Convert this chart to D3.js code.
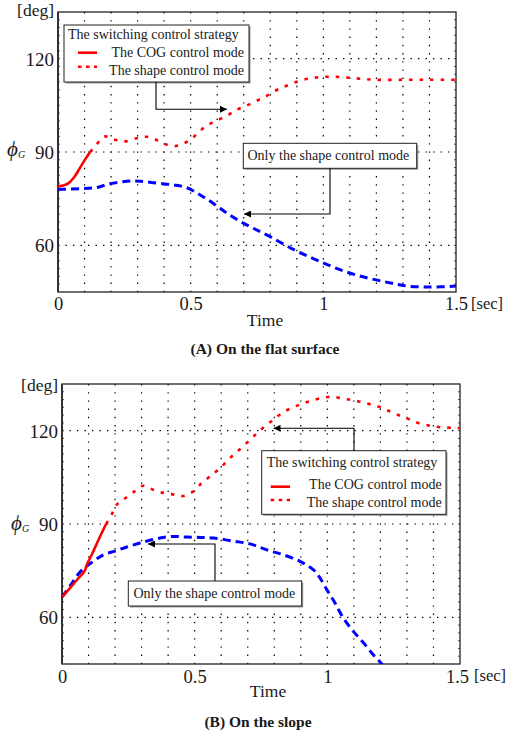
<!DOCTYPE html>
<html><head><meta charset="utf-8">
<script src="https://cdn.jsdelivr.net/npm/d3@7"></script>
<style>
body{margin:0;background:#fff;}
svg text{font-family:"Liberation Serif","Times New Roman",serif;fill:#1a1a1a;}
</style></head>
<body>
<svg id="chart" width="511" height="734"></svg>
<script>
// ---------- data (time [sec], angle [deg]) ----------
const xTicks = [0, 0.5, 1, 1.5];
const xTickLabels = ["0", "0.5", "1", "1.5"];
const yTicks = [60, 90, 120];
const yTickLabels = ["60", "90", "120"];

// (A) flat surface
const flatCOG = [[0,79],[0.02,79.2],[0.04,80],[0.06,81.8],[0.08,84.5],[0.1,87.3],[0.121,90]];
const flatShapeSwitch = [[0.121,90],[0.146,92.5],[0.175,95],[0.209,94.1],[0.249,93.4],[0.297,94.4],[0.335,94.9],
  [0.373,93.8],[0.411,92.3],[0.448,92],[0.492,93.6],[0.524,95.8],[0.555,98.2],[0.593,99.9],[0.637,101.7],
  [0.675,103.6],[0.713,105],[0.757,106.8],[0.788,108.1],[0.826,110],[0.864,111.4],[0.908,112.8],[0.946,113.6],
  [0.99,114.1],[1.034,114.2],[1.078,114.0],[1.119,113.7],[1.162,113.4],[1.204,113.2],[1.3,113.2],[1.4,113.2],[1.5,113.2]];
const flatShapeOnly = [[0,78],[0.083,78.2],[0.146,78.6],[0.196,79.8],[0.26,80.6],[0.31,80.6],[0.373,80],[0.436,79.4],
  [0.486,78.5],[0.536,76.2],[0.587,73.4],[0.637,70.3],[0.688,67.6],[0.738,65.4],[0.801,62.7],[0.889,58.6],
  [0.977,55.2],[1.065,52.1],[1.153,49.8],[1.242,48.1],[1.317,46.9],[1.405,46.6],[1.5,46.9]];

// (B) slope
const slopeCOG = [[0,66.5],[0.03,69.4],[0.06,72.4],[0.085,74.9],[0.095,77.2],[0.112,80.1],[0.137,84.8],[0.166,90]];
const slopeShapeSwitch = [[0.166,90],[0.187,93],[0.206,96.2],[0.237,98.2],[0.269,100.2],[0.306,102.3],[0.344,101],
  [0.382,100],[0.42,99.5],[0.457,99],[0.495,100.5],[0.527,103.2],[0.558,105.3],[0.596,108],[0.633,111.2],
  [0.665,113.6],[0.709,117.1],[0.746,120.1],[0.784,122.7],[0.815,124.8],[0.853,126.8],[0.897,128.4],[0.935,129.5],
  [0.979,130.5],[1.017,130.9],[1.06,130.3],[1.098,129.8],[1.142,128.9],[1.186,127.9],[1.224,126.6],[1.262,125.2],
  [1.305,123.8],[1.343,122.5],[1.387,121.6],[1.425,121.1],[1.475,120.9],[1.5,120.8]];
const slopeShapeOnly = [[0,66.5],[0.03,70],[0.068,74.6],[0.118,78],[0.156,80.1],[0.2,81.3],[0.244,82.6],[0.294,83.9],
  [0.319,84.5],[0.369,85.5],[0.42,86],[0.47,85.8],[0.52,85.7],[0.57,85.5],[0.646,84.5],[0.709,83.6],[0.772,81.7],
  [0.834,80.1],[0.897,78],[0.947,75.3],[0.972,72.7],[0.998,68.9],[1.029,64.6],[1.06,59.8],[1.098,55.5],
  [1.136,51.8],[1.173,48],[1.205,45],[1.23,42]];

const legendTitle = "The switching control strategy";
const legendItems = ["The COG control mode", "The shape control mode"];
const onlyLabel = "Only the shape control mode";

// ---------- drawing ----------
const svg = d3.select("#chart");
const defs = svg.append("defs");
defs.append("marker").attr("id","ah").attr("viewBox","0 0 10 10").attr("refX",10).attr("refY",5)
  .attr("markerWidth",9).attr("markerHeight",7).attr("markerUnits","userSpaceOnUse").attr("orient","auto")
  .append("path").attr("d","M0,0L10,5L0,10Z").attr("fill","#000");

const panels = [
  {l:58, r:456, t:12, b:292, id:"a",
   cog:flatCOG, sw:flatShapeSwitch, only:flatShapeOnly,
   caption:"(A) On the flat surface", captionY:354, captionX:265, timeX:265, timeY:326, tickY:310, secY:309, secX:471,
   degY:16, phiY:156,
   legend:{x:64, y:25, w:185, h:57, titleX:68, titleY:39, itemR:244, itemY:[57,74.5], sx:[78,97], sy:[52.7,66.7]},
   legendArrow:[[156,82],[156,109.3],[227,109.3]],
   only_box:{x:243.3, y:143.3, w:173.4, h:25, tx:247.5, ty:160},
   onlyArrow:[[330,168.3],[330,214],[244,214]]},
  {l:62, r:460, t:384, b:664, id:"b",
   cog:slopeCOG, sw:slopeShapeSwitch, only:slopeShapeOnly,
   caption:"(B) On the slope", captionY:727, captionX:258, timeX:268, timeY:697, tickY:683, secY:681, secX:474,
   degY:391, phiY:530,
   legend:{x:261.7, y:450.7, w:184.3, h:63.6, titleX:266.7, titleY:467.3, itemR:441.7, itemY:[489.3,506.5], sx:[270.7,290], sy:[486.7,500]},
   legendArrow:[[354,450.7],[354,428.3],[273.5,428.3]],
   only_box:{x:128.3, y:581, w:173.4, h:25, tx:133.5, ty:597.5},
   onlyArrow:[[215,581],[215,544],[148,544]]}
];

const line = d3.line().curve(d3.curveCatmullRom.alpha(0.5));

panels.forEach(p => {
  const x = d3.scaleLinear().domain([0,1.5]).range([p.l,p.r]);
  const y = d3.scaleLinear().domain([45,135]).range([p.b,p.t]);
  line.x(d=>x(d[0])).y(d=>y(d[1]));
  const g = svg.append("g");

  defs.append("clipPath").attr("id","clip"+p.id).append("rect")
    .attr("x",p.l).attr("y",p.t).attr("width",p.r-p.l).attr("height",p.b-p.t);

  // grid
  const vg = d3.range(1,15).map(i=>i/10);
  g.append("g").selectAll("line").data(vg).join("line")
    .attr("x1",d=>x(d)).attr("x2",d=>x(d)).attr("y1",p.t).attr("y2",p.b)
    .attr("stroke","#000").attr("stroke-width",1.2).attr("stroke-dasharray","1.4,6.8");
  g.append("g").selectAll("line").data(yTicks).join("line")
    .attr("x1",p.l).attr("x2",p.r).attr("y1",d=>y(d)).attr("y2",d=>y(d))
    .attr("stroke","#000").attr("stroke-width",1.2).attr("stroke-dasharray","1.4,6.1");

  // minor ticks on left/right axis
  const minor = d3.range(47.5,135,2.5);
  g.append("g").selectAll("line").data(minor).join("line")
    .attr("x1",p.l).attr("x2",p.l+2).attr("y1",d=>y(d)).attr("y2",d=>y(d))
    .attr("stroke","#555").attr("stroke-width",1);
  g.append("g").selectAll("line").data(minor).join("line")
    .attr("x1",p.r-2).attr("x2",p.r).attr("y1",d=>y(d)).attr("y2",d=>y(d))
    .attr("stroke","#555").attr("stroke-width",1);

  // axes via d3
  const xAxis = d3.axisBottom(x).tickValues(xTicks).tickFormat((d,i)=>xTickLabels[i]).tickSize(0).tickPadding(0);
  const xa = g.append("g").attr("transform",`translate(0,${p.b})`).call(xAxis);
  xa.select(".domain").remove();
  xa.selectAll("text").attr("dy",null).attr("y",p.tickY-p.b).attr("font-size",18.5)
    .attr("font-family","Liberation Serif, serif").attr("fill","#1a1a1a");
  if (p.id === "b") xa.selectAll("text").filter((d,i)=>i===3).attr("dx",-3);
  const yAxis = d3.axisLeft(y).tickValues(yTicks).tickFormat((d,i)=>yTickLabels[i]).tickSize(0).tickPadding(4);
  const ya = g.append("g").attr("transform",`translate(${p.l},0)`).call(yAxis);
  ya.select(".domain").remove();
  ya.selectAll("text").attr("dy","0.34em").attr("font-size",19)
    .attr("font-family","Liberation Serif, serif").attr("fill","#1a1a1a");

  // frame
  g.append("rect").attr("x",p.l).attr("y",p.t).attr("width",p.r-p.l).attr("height",p.b-p.t)
    .attr("fill","none").attr("stroke","#222").attr("stroke-width",1.3);
  g.append("line").attr("x1",p.l).attr("x2",p.l).attr("y1",p.t).attr("y2",p.b)
    .attr("stroke","#333").attr("stroke-width",2);

  // curves
  const cg = g.append("g").attr("clip-path",`url(#clip${p.id})`);
  cg.append("path").attr("d",line(p.only)).attr("fill","none").attr("stroke","#0000ff")
    .attr("stroke-width",3).attr("stroke-dasharray","8,5");
  cg.append("path").attr("d",line(p.sw)).attr("fill","none").attr("stroke","#ff0000")
    .attr("stroke-width",2.6).attr("stroke-dasharray","3.5,7");
  cg.append("path").attr("d",line(p.cog)).attr("fill","none").attr("stroke","#ff0000")
    .attr("stroke-width",2.6);

  // legend box
  const L = p.legend;
  g.append("rect").attr("x",L.x+1.5).attr("y",L.y+1.5).attr("width",L.w).attr("height",L.h).attr("fill","#999");
  g.append("rect").attr("x",L.x).attr("y",L.y).attr("width",L.w).attr("height",L.h)
    .attr("fill","#fff").attr("stroke","#222").attr("stroke-width",1);
  g.append("text").attr("x",L.titleX).attr("y",L.titleY).attr("font-size",14).text(legendTitle);
  legendItems.forEach((t,i)=>{
    g.append("text").attr("x",L.itemR).attr("y",L.itemY[i]).attr("font-size",14)
      .attr("text-anchor","end").text(t);
  });
  g.append("line").attr("x1",L.sx[0]).attr("x2",L.sx[1]).attr("y1",L.sy[0]).attr("y2",L.sy[0])
    .attr("stroke","#ff0000").attr("stroke-width",2.6);
  g.append("line").attr("x1",L.sx[0]).attr("x2",L.sx[1]).attr("y1",L.sy[1]).attr("y2",L.sy[1])
    .attr("stroke","#ff0000").attr("stroke-width",2.6).attr("stroke-dasharray","3.5,4.5");

  // legend arrow
  g.append("path").attr("d",d3.line()(p.legendArrow)).attr("fill","none").attr("stroke","#000")
    .attr("stroke-width",1.1).attr("marker-end","url(#ah)");

  // "only" box
  const O = p.only_box;
  g.append("rect").attr("x",O.x+1.5).attr("y",O.y+1.5).attr("width",O.w).attr("height",O.h).attr("fill","#999");
  g.append("rect").attr("x",O.x).attr("y",O.y).attr("width",O.w).attr("height",O.h)
    .attr("fill","#fff").attr("stroke","#222").attr("stroke-width",1);
  g.append("text").attr("x",O.tx).attr("y",O.ty).attr("font-size",14).text(onlyLabel);
  g.append("path").attr("d",d3.line()(p.onlyArrow)).attr("fill","none").attr("stroke","#000")
    .attr("stroke-width",1.1).attr("marker-end","url(#ah)");

  // labels
  g.append("text").attr("x",p.l-4).attr("y",p.degY).attr("text-anchor","end").attr("font-size",17.5).text("[deg]");
  const phi = g.append("text").attr("x",p.l-51).attr("y",p.phiY).attr("font-size",21).attr("font-style","italic");
  phi.append("tspan").text("ϕ");
  phi.append("tspan").attr("font-size",10).attr("dy",2).text("G");
  g.append("text").attr("x",p.secX).attr("y",p.secY).attr("font-size",16.5).text("[sec]");
  g.append("text").attr("x",p.timeX).attr("y",p.timeY).attr("text-anchor","middle").attr("font-size",17.5).text("Time");
  g.append("text").attr("x",p.captionX).attr("y",p.captionY).attr("text-anchor","middle").attr("font-size",15.5)
    .attr("font-weight","bold").text(p.caption);
});
</script>
</body></html>
